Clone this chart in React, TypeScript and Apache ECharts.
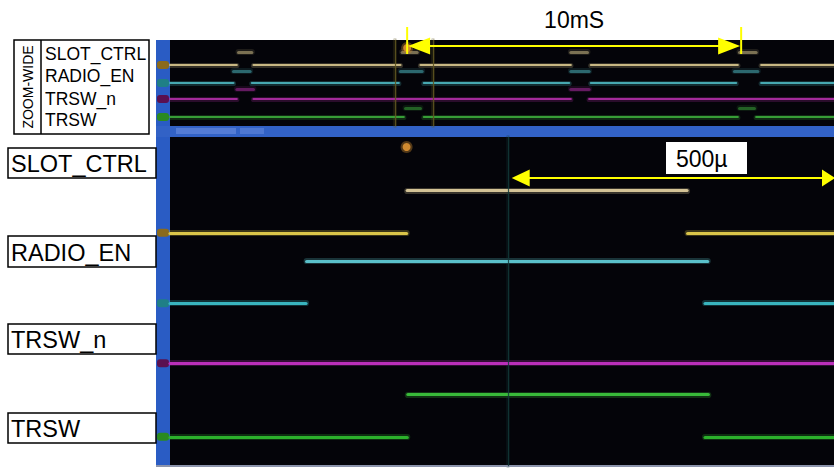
import React, { useEffect, useRef } from "react";
import * as echarts from "echarts";

// ---- signal names ----
const signals = ["SLOT_CTRL", "RADIO_EN", "TRSW_n", "TRSW"];

// ---- main (zoomed-in) view, time in µs from left edge ----
const mainSpanUs = 1030;
const mainLow: number[][][] = [
  [[0, 367], [803, 1030]],        // SLOT_CTRL
  [[0, 211], [830, 1030]],        // RADIO_EN
  [[0, 1030]],                    // TRSW_n
  [[0, 368], [830, 1030]],        // TRSW
];
const mainHigh: number[][][] = [
  [[368, 802]],
  [[212, 834]],
  [],
  [[369, 835]],
];
const mainCursorUs = 524;
const mainTriggerUs = 367;
const span500 = [530, 1030];

// ---- zoom-wide view, time in ms from left edge ----
const zoomSpanMs = 19.88;
const zoomLow: number[][][] = [
  [[0, 2.0], [2.5, 6.9], [7.5, 12.0], [12.6, 17.0], [17.7, 19.88]],
  [[0, 1.9], [2.45, 6.85], [7.6, 11.95], [12.6, 16.95], [17.7, 19.88]],
  [[0, 2.0], [2.5, 12.0], [12.55, 19.88]],
  [[0, 7.0], [7.6, 17.0], [17.55, 19.88]],
];
const zoomHigh: number[][][] = [
  [[2.05, 2.45], [6.95, 7.4], [12.0, 12.5], [17.05, 17.55]],
  [[1.9, 2.4], [6.9, 7.55], [12.0, 12.55], [16.9, 17.6]],
  [[2.0, 2.5], [12.0, 12.55]],
  [[7.05, 7.5], [17.05, 17.5]],
];
const zoomWindowMs = [6.74, 7.87];
const zoomTriggerMs = 7.1;
const span10 = [7.1, 17.1];

// ---- styling (not data) ----
const mainBase = [5.67, 3.96, 2.5, 0.71];
const mainAmp = 1.03;
const zoomBase = [6.1, 4.3, 2.7, 0.9];
const zoomAmp = [1.3, 1.2, 1.0, 0.9];
const lowColors = ["#e2cc4c", "#3cbcc6", "#c232c2", "#2eb82e"];
const highColors = ["#dccb9c", "#5ec8d2", "#c232c2", "#3cc23c"];
const zoomColors = ["#d8c68e", "#4cb6c0", "#b02ea6", "#3caa3c"];
const markerColors = ["#8a6a1c", "#1f7f86", "#5a1050", "#2a8a20"];

function segItems(segs: number[][], y: number) {
  return segs.map(([s, e]) => ({ coords: [[s, y], [e, y]] }));
}

export default function App() {
  const ref = useRef<HTMLDivElement>(null);
  useEffect(() => {
    if (!ref.current) return;
    const chart = echarts.init(ref.current, null, { renderer: "svg" });
    const series: any[] = [];
    const addLines = (gi: number, items: any[], color: string, width: number, opacity: number) => {
      // glow underlay
      series.push({
        type: "lines",
        coordinateSystem: "cartesian2d",
        xAxisIndex: gi,
        yAxisIndex: gi,
        polyline: false,
        silent: true,
        data: items,
        lineStyle: { color, width: width + 3, opacity: opacity * 0.25, cap: "round" },
        z: 2,
      });
      series.push({
        type: "lines",
        coordinateSystem: "cartesian2d",
        xAxisIndex: gi,
        yAxisIndex: gi,
        polyline: false,
        silent: true,
        data: items,
        lineStyle: { color, width, opacity, cap: "round" },
        z: 3,
      });
    };
    signals.forEach((name, i) => {
      addLines(0, segItems(zoomLow[i], zoomBase[i]), zoomColors[i], 2.2, 0.9);
      addLines(0, segItems(zoomHigh[i], zoomBase[i] + zoomAmp[i]), zoomColors[i], 3, 0.5);
      addLines(1, segItems(mainLow[i], mainBase[i]), lowColors[i], 3.2, 0.95);
      addLines(1, segItems(mainHigh[i], mainBase[i] + mainAmp), highColors[i], 3.2, 0.95);
    });
    // cursor / window marker lines
    addLines(0, zoomWindowMs.map((t) => ({ coords: [[t, 0], [t, 8.6]] })), "#5e5420", 1.2, 0.9);
    addLines(1, [{ coords: [[mainCursorUs, 0], [mainCursorUs, 8]] }], "#123838", 1.2, 0.85);

    const axisOff = { show: false };
    chart.setOption({
      animation: false,
      backgroundColor: "#ffffff",
      grid: [
        { left: 170, top: 40, width: 664, height: 86, show: true, backgroundColor: "#040409", borderWidth: 0 },
        { left: 170, top: 137, width: 664, height: 329, show: true, backgroundColor: "#040409", borderWidth: 0 },
      ],
      xAxis: [
        { type: "value", gridIndex: 0, min: 0, max: zoomSpanMs, ...axisOff },
        { type: "value", gridIndex: 1, min: 0, max: mainSpanUs, ...axisOff },
      ],
      yAxis: [
        { type: "value", gridIndex: 0, min: 0, max: 8.6, ...axisOff },
        { type: "value", gridIndex: 1, min: 0, max: 8, ...axisOff },
      ],
      series,
    });

    const p0 = (t: number, y: number) => chart.convertToPixel({ gridIndex: 0 }, [t, y]) as number[];
    const p1 = (t: number, y: number) => chart.convertToPixel({ gridIndex: 1 }, [t, y]) as number[];
    const font = "Liberation Sans, Arial, sans-serif";
    const yellow = "#ffff00";
    const g: any[] = [];

    // blue frame pieces
    g.push({ type: "rect", shape: { x: 156, y: 40, width: 14, height: 426 }, style: { fill: "#2a5cc4" }, z: 1 });
    g.push({ type: "rect", shape: { x: 156, y: 126, width: 678, height: 11 }, style: { fill: "#3262c6" }, z: 1 });
    g.push({ type: "rect", shape: { x: 176, y: 128, width: 60, height: 6 }, style: { fill: "#6a8ee0", opacity: 0.6 }, z: 2 });
    g.push({ type: "rect", shape: { x: 240, y: 128, width: 24, height: 6 }, style: { fill: "#6a8ee0", opacity: 0.5 }, z: 2 });
    g.push({ type: "rect", shape: { x: 156, y: 465, width: 678, height: 2 }, style: { fill: "#8c94ac" }, z: 2 });

    // channel markers on the left strip
    signals.forEach((_, i) => {
      const a = p0(0, zoomBase[i]);
      g.push({ type: "rect", shape: { x: 157, y: a[1] - 4, width: 12, height: 8, r: 3 }, style: { fill: markerColors[i] }, z: 2 });
      const b = p1(0, mainBase[i]);
      g.push({ type: "rect", shape: { x: 157, y: b[1] - 4, width: 12, height: 8, r: 3 }, style: { fill: markerColors[i] }, z: 2 });
    });

    // trigger dots
    const tz = p0(zoomTriggerMs, 0);
    g.push({ type: "circle", shape: { cx: tz[0], cy: 48, r: 6 }, style: { fill: "#c9862e", opacity: 0.4 }, z: 4 });
    g.push({ type: "circle", shape: { cx: tz[0], cy: 48, r: 4 }, style: { fill: "#d08a30" }, z: 4 });
    const tm = p1(mainTriggerUs, 0);
    g.push({ type: "circle", shape: { cx: tm[0], cy: 147, r: 6 }, style: { fill: "#c9862e", opacity: 0.4 }, z: 4 });
    g.push({ type: "circle", shape: { cx: tm[0], cy: 147, r: 4 }, style: { fill: "#d08a30" }, z: 4 });

    // label boxes on the left
    const boxes = [
      { y: 148, h: 30 },
      { y: 236, h: 31 },
      { y: 324, h: 30 },
      { y: 413, h: 30 },
    ];
    signals.forEach((name, i) => {
      g.push({ type: "rect", shape: { x: 8, y: boxes[i].y, width: 148, height: boxes[i].h }, style: { fill: "#fff", stroke: "#000", lineWidth: 1.5 }, z: 5 });
      g.push({
        type: "text",
        x: 11,
        y: boxes[i].y + boxes[i].h / 2 + 1,
        style: { text: name, font: `23.5px ${font}`, fill: "#000", textVerticalAlign: "middle", textAlign: "left" },
        z: 6,
      });
    });

    // zoom-wide legend box
    g.push({ type: "rect", shape: { x: 14, y: 40, width: 135, height: 94 }, style: { fill: "#fff", stroke: "#000", lineWidth: 1.5 }, z: 5 });
    g.push({ type: "line", shape: { x1: 41, y1: 40, x2: 41, y2: 134 }, style: { stroke: "#000", lineWidth: 1.5 }, z: 6 });
    g.push({
      type: "text",
      x: 28,
      y: 87,
      rotation: Math.PI / 2,
      style: { text: "ZOOM-WIDE", font: `14px ${font}`, fill: "#000", textAlign: "center", textVerticalAlign: "middle" },
      z: 6,
    });
    const legY = [54, 76, 99, 120];
    signals.forEach((name, i) => {
      g.push({
        type: "text",
        x: 45,
        y: legY[i],
        style: { text: name, font: `17.5px ${font}`, fill: "#000", textAlign: "left", textVerticalAlign: "middle" },
        z: 6,
      });
    });

    // 10mS annotation
    const a1 = p0(span10[0], 0)[0];
    const a2 = p0(span10[1], 0)[0];
    const ay = 46;
    g.push({ type: "line", shape: { x1: a1, y1: 27, x2: a1, y2: 54 }, style: { stroke: yellow, lineWidth: 2 }, z: 7 });
    g.push({ type: "line", shape: { x1: a2, y1: 27, x2: a2, y2: 54 }, style: { stroke: yellow, lineWidth: 2 }, z: 7 });
    g.push({ type: "line", shape: { x1: a1 + 10, y1: ay, x2: a2 - 10, y2: ay }, style: { stroke: yellow, lineWidth: 2 }, z: 7 });
    g.push({ type: "polygon", shape: { points: [[a1 + 1, ay], [a1 + 23, ay - 8.5], [a1 + 23, ay + 8.5]] }, style: { fill: yellow }, z: 7 });
    g.push({ type: "polygon", shape: { points: [[a2 - 1, ay], [a2 - 23, ay - 8.5], [a2 - 23, ay + 8.5]] }, style: { fill: yellow }, z: 7 });
    g.push({
      type: "text",
      x: (a1 + a2) / 2,
      y: 20,
      style: { text: "10mS", font: `23px ${font}`, fill: "#000", textAlign: "center", textVerticalAlign: "middle" },
      z: 7,
    });

    // 500µ annotation
    const b1 = p1(span500[0], 0)[0];
    const b2 = p1(span500[1], 0)[0];
    const by = 178;
    g.push({ type: "line", shape: { x1: b1 + 10, y1: by, x2: b2 - 10, y2: by }, style: { stroke: yellow, lineWidth: 2 }, z: 7 });
    g.push({ type: "polygon", shape: { points: [[b1, by], [b1 + 18, by - 8.5], [b1 + 18, by + 8.5]] }, style: { fill: yellow }, z: 7 });
    g.push({ type: "polygon", shape: { points: [[b2 + 1, by], [b2 - 12, by - 8.5], [b2 - 12, by + 8.5]] }, style: { fill: yellow }, z: 7 });
    g.push({ type: "rect", shape: { x: 666, y: 142, width: 81, height: 32 }, style: { fill: "#fff" }, z: 7 });
    g.push({
      type: "text",
      x: 676,
      y: 159,
      style: { text: "500µ", font: `23px ${font}`, fill: "#000", textAlign: "left", textVerticalAlign: "middle" },
      z: 8,
    });

    chart.setOption({ graphic: g });
    return () => chart.dispose();
  }, []);
  return (
    <div
      ref={ref}
      style={{ position: "fixed", left: 0, top: 0, width: 834, height: 470, background: "#fff" }}
    />
  );
}
